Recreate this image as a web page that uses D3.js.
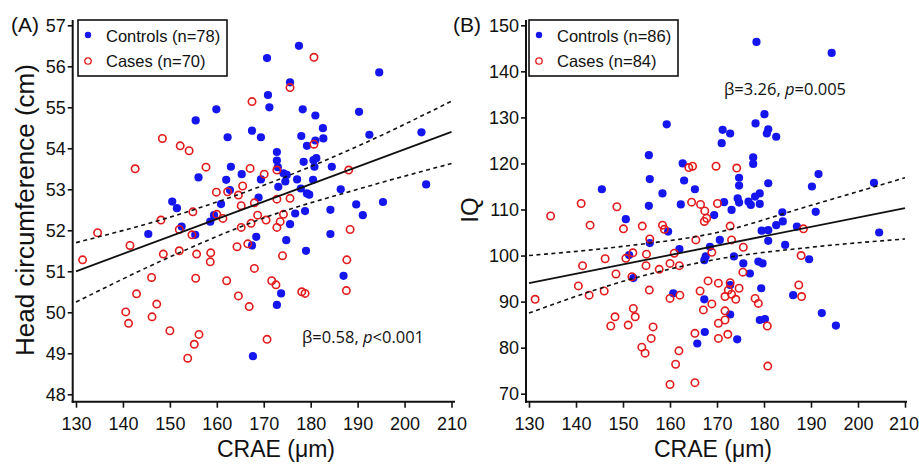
<!DOCTYPE html>
<html>
<head>
<meta charset="utf-8">
<script src="https://cdn.jsdelivr.net/npm/d3@7/dist/d3.min.js"></script>
<style>
  html, body { margin: 0; padding: 0; background: #fff; }
  svg { display: block; }
  text { font-family: "Liberation Sans", Arial, sans-serif; fill: #111; }
</style>
</head>
<body>
<svg id="chart" width="919" height="464"></svg>
<script>
// ---------- DATA ----------
const xTicks = [130, 140, 150, 160, 170, 180, 190, 200, 210];
const yTicksA = [48, 49, 50, 51, 52, 53, 54, 55, 56, 57];
const yTicksB = [70, 80, 90, 100, 110, 120, 130, 140, 150];

const legendA = ["Controls (n=78)", "Cases (n=70)"];
const legendB = ["Controls (n=86)", "Cases (n=84)"];

// fitted regression line (at x = 130 and 210) and 95% CI read at ciX
const fitX = [130, 210];
const fitA = [51.0, 54.4];
const fitB = [94.0, 110.3];
const ciX = [130, 150, 170, 190, 210];
const ciUpperA = [51.70, 52.32, 53.10, 54.05, 55.15];
const ciLowerA = [50.25, 51.35, 52.30, 53.00, 53.63];
const ciUpperB = [100.0, 102.0, 105.0, 110.9, 116.9];
const ciLowerB = [87.5, 94.4, 99.2, 101.8, 103.6];

// Panel A: CRAE vs head circumference
const controlsA = [[177.5,56.50],[170.7,56.20],[175.6,55.61],[170.9,55.30],[171.2,55.00],[159.9,54.95],[178.3,54.95],[181.0,54.80],[155.5,54.68],[182.6,54.49],[167.5,54.43],[162.3,54.27],[169.4,54.27],[178.0,54.30],[182.7,54.24],[181.0,54.19],[179.2,54.06],[172.8,53.91],[172.8,53.70],[178.5,53.67],[180.6,53.71],[181.2,53.76],[163.0,53.55],[173.0,53.54],[184.5,53.55],[180.8,53.55],[174.2,53.39],[174.9,53.35],[165.3,53.37],[156.1,53.29],[162.0,53.23],[169.4,53.24],[174.6,53.19],[177.1,53.24],[180.5,53.23],[173.1,53.06],[177.9,53.02],[162.8,52.98],[179.2,52.90],[179.7,52.87],[186.4,53.00],[168.9,52.80],[150.5,52.70],[151.5,52.54],[160.9,52.64],[184.2,52.50],[178.8,52.47],[176.7,52.41],[159.4,52.37],[158.6,52.21],[175.6,52.15],[152.5,52.09],[184.2,51.91],[168.4,51.84],[155.4,51.89],[174.8,51.76],[167.5,51.63],[179.0,51.50],[145.4,51.91],[187.0,50.89],[173.7,50.46],[172.8,50.18],[190.3,54.89],[194.6,55.85],[192.5,54.33],[203.6,54.39],[189.7,52.63],[195.4,52.69],[204.6,53.12],[191.1,52.37],[167.7,48.93]];
const casesA = [[180.7,56.22],[175.6,55.48],[167.5,55.14],[148.4,54.24],[152.2,54.06],[154.1,53.94],[157.7,53.54],[167.1,53.51],[170.1,53.37],[172.8,53.47],[180.7,54.10],[165.5,53.08],[159.9,52.93],[162.3,52.94],[164.6,52.86],[165.2,52.60],[168.0,52.67],[172.8,52.76],[175.6,52.78],[154.9,52.45],[160.0,52.39],[161.3,52.29],[168.7,52.37],[170.5,52.25],[174.2,52.39],[173.5,52.21],[172.8,52.07],[167.3,52.17],[165.2,52.07],[148.1,52.25],[152.0,52.02],[154.7,51.89],[164.3,51.60],[166.6,51.67],[148.6,51.42],[152.0,51.50],[155.7,51.42],[158.7,51.45],[158.6,51.23],[174.0,51.38],[187.7,51.28],[146.1,50.85],[155.5,50.83],[162.1,50.77],[168.0,51.07],[171.7,50.77],[172.6,50.67],[178.1,50.50],[178.8,50.46],[187.6,50.53],[164.6,50.40],[147.2,50.20],[166.9,50.14],[188.4,52.02],[188.1,53.47],[131.4,51.28],[134.6,51.94],[141.5,51.63],[142.6,53.50],[142.9,50.45],[140.6,50.01],[141.2,49.73],[146.2,49.89],[150.0,49.55],[153.8,48.88],[155.2,49.22],[156.2,49.46],[170.7,49.34]];

// Panel B: CRAE vs IQ
const controlsB = [[178.4,146.4],[194.4,144.0],[159.3,128.5],[180.1,130.7],[178.2,128.7],[180.9,127.4],[180.6,126.5],[182.6,125.8],[171.2,127.3],[172.8,126.5],[171.0,124.4],[155.5,121.8],[177.7,121.3],[177.7,119.9],[162.7,120.0],[174.7,116.9],[174.7,115.2],[155.7,116.6],[163.0,116.3],[165.3,114.4],[158.4,113.5],[180.9,115.7],[191.6,117.7],[190.2,115.0],[179.1,113.5],[178.1,112.8],[174.4,112.4],[174.7,111.5],[176.7,111.7],[177.2,111.0],[179.1,111.2],[171.5,111.6],[173.1,109.9],[155.5,110.8],[162.3,111.1],[169.4,108.8],[150.6,107.9],[159.6,105.2],[179.5,105.4],[180.9,105.5],[182.6,106.6],[184.0,107.4],[183.9,109.4],[187.0,106.3],[180.9,103.2],[184.5,102.3],[170.6,103.4],[162.0,101.4],[168.5,101.9],[167.6,99.8],[167.3,99.0],[173.6,99.8],[175.6,98.3],[178.8,98.7],[179.7,98.3],[189.6,99.2],[177.0,96.1],[152.2,95.1],[151.3,100.1],[155.7,102.7],[172.8,93.6],[179.4,92.9],[186.2,91.4],[160.7,91.8],[167.3,90.5],[172.8,87.2],[179.1,86.0],[180.2,86.2],[192.3,87.5],[195.3,84.8],[145.5,114.4],[203.4,115.8],[191.0,109.5],[204.5,105.0],[167.4,83.4],[165.8,80.9],[174.3,81.8]];
const casesB = [[164.0,119.1],[164.8,119.4],[169.8,119.4],[174.2,119.0],[148.7,110.6],[164.6,111.6],[166.5,111.1],[167.4,109.7],[170.1,111.3],[167.8,108.1],[167.3,107.4],[150.1,105.8],[154.1,106.4],[158.4,106.6],[158.8,105.7],[155.7,103.6],[165.5,103.4],[172.8,106.4],[173.1,103.4],[188.4,105.8],[175.6,101.8],[168.9,100.7],[160.9,100.5],[152.1,100.6],[150.6,99.4],[155.0,100.3],[154.9,97.8],[160.0,98.3],[162.0,97.8],[157.7,97.0],[148.5,96.0],[151.9,95.4],[175.5,96.4],[187.9,100.0],[168.1,94.5],[170.3,94.0],[172.8,94.1],[172.4,92.5],[174.7,92.9],[166.4,92.3],[155.6,92.5],[160.0,90.7],[162.1,91.4],[171.7,91.1],[173.1,91.6],[174.0,90.5],[168.9,89.5],[171.7,88.0],[167.1,88.2],[178.1,90.7],[178.8,89.6],[187.4,93.6],[188.0,91.1],[152.2,88.5],[152.6,86.7],[148.3,86.7],[151.1,84.9],[156.4,84.5],[170.3,85.3],[171.7,86.0],[180.7,84.7],[134.6,108.6],[141.1,111.3],[143.0,106.6],[146.2,99.3],[140.5,93.4],[141.4,97.8],[142.8,91.4],[146.0,92.3],[131.3,90.5],[147.4,84.7],[154.0,80.1],[154.7,78.8],[156.0,82.0],[160.0,72.0],[161.2,76.4],[161.9,79.3],[165.3,72.4],[165.3,83.1],[170.3,82.0],[172.3,82.9],[180.8,76.0]];

// ---------- DRAW ----------
const BLUE = "#1515ee";
const RED = "#e31a1c";
const svg = d3.select("#chart");
svg.append("rect").attr("width", 919).attr("height", 464).attr("fill", "#fff");

function panel(cfg) {
  const g = svg.append("g");
  const x = d3.scaleLinear().domain([130, 210]).range(cfg.xRange);
  const y = d3.scaleLinear().domain(cfg.yDomain).range(cfg.yRange);
  const axisY = 401.7;

  // axes
  const gx = g.append("g").attr("transform", `translate(0,${axisY})`)
    .call(d3.axisBottom(x).tickValues(xTicks).tickSize(6).tickPadding(10).tickFormat(d3.format("d")));
  gx.select(".domain").remove();
  gx.selectAll("line").attr("stroke", "#111").attr("stroke-width", 1.6);
  gx.selectAll("text").style("font-size", "18px").style("font-family", "'Liberation Sans', Arial, sans-serif").attr("fill", "#111");
  if (cfg.lastTickShift) {
    gx.selectAll("text").filter(d => d === 210).attr("dx", cfg.lastTickShift);
  }

  const gy = g.append("g").attr("transform", `translate(${cfg.yAxisX},0)`)
    .call(d3.axisLeft(y).tickValues(cfg.yTicks).tickSize(5).tickPadding(2).tickFormat(d3.format("d")));
  gy.select(".domain").remove();
  gy.selectAll("line").attr("stroke", "#111").attr("stroke-width", 1.6);
  gy.selectAll("text").style("font-size", "18px").style("font-family", "'Liberation Sans', Arial, sans-serif").attr("fill", "#111");

  g.append("line").attr("x1", cfg.yAxisX).attr("x2", cfg.yAxisX).attr("y1", 20).attr("y2", axisY + 1)
    .attr("stroke", "#111").attr("stroke-width", 2);
  g.append("line").attr("x1", cfg.yAxisX - 1).attr("x2", cfg.xAxisEnd).attr("y1", axisY).attr("y2", axisY)
    .attr("stroke", "#111").attr("stroke-width", 2);

  // points
  g.append("g").selectAll("circle").data(cfg.controls).join("circle")
    .attr("cx", d => x(d[0])).attr("cy", d => y(d[1])).attr("r", 4.1).attr("fill", BLUE);
  g.append("g").selectAll("circle").data(cfg.cases).join("circle")
    .attr("cx", d => x(d[0])).attr("cy", d => y(d[1])).attr("r", 3.7)
    .attr("fill", "none").attr("stroke", RED).attr("stroke-width", 1.6);

  // regression + CI
  const line = d3.line().x(d => x(d[0])).y(d => y(d[1]));
  const curve = d3.line().x(d => x(d[0])).y(d => y(d[1])).curve(d3.curveMonotoneX);
  g.append("path").attr("d", line(fitX.map((v, i) => [v, cfg.fit[i]])))
    .attr("fill", "none").attr("stroke", "#111").attr("stroke-width", 1.8);
  [cfg.ciU, cfg.ciL].forEach(arr => {
    g.append("path").attr("d", curve(ciX.map((v, i) => [v, arr[i]])))
      .attr("fill", "none").attr("stroke", "#111").attr("stroke-width", 1.6)
      .attr("stroke-dasharray", "4,3.5");
  });

  // legend
  const lg = g.append("g");
  lg.append("rect").attr("x", cfg.legX).attr("y", 20).attr("width", 149).attr("height", 56)
    .attr("fill", "#fff").attr("stroke", "#111").attr("stroke-width", 1.6);
  lg.append("circle").attr("cx", cfg.legX + 10).attr("cy", 35).attr("r", 3.2).attr("fill", BLUE);
  lg.append("circle").attr("cx", cfg.legX + 10).attr("cy", 61).attr("r", 3.2)
    .attr("fill", "none").attr("stroke", RED).attr("stroke-width", 1.3);
  lg.append("text").attr("x", cfg.legX + 28).attr("y", 42).style("font-size", "16.5px").text(cfg.legend[0]);
  lg.append("text").attr("x", cfg.legX + 28).attr("y", 67).style("font-size", "16.5px").text(cfg.legend[1]);

  // panel label
  g.append("text").attr("x", cfg.labelX).attr("y", 32).style("font-size", "21px").text(cfg.label);

  // titles
  g.append("text").attr("x", cfg.xTitleX).attr("y", 457).attr("text-anchor", "middle")
    .style("font-size", "23px").text("CRAE (μm)");
  g.append("text").attr("transform", `translate(${cfg.yTitleX},${cfg.yTitleY}) rotate(-90)`)
    .attr("text-anchor", "middle").style("font-size", cfg.yTitleSize).text(cfg.yTitle);

  // annotation
  const t = g.append("text").attr("x", cfg.annX).attr("y", cfg.annY)
    .style("font-size", "16.5px").style("font-family", "'Open Sans', 'Liberation Sans', sans-serif");
  t.append("tspan").text(cfg.ann[0]);
  t.append("tspan").style("font-style", "italic").text("p");
  t.append("tspan").text(cfg.ann[1]);
}

panel({
  xRange: [76, 451.5], yDomain: [48, 57], yRange: [394.3, 25.3], yTicks: yTicksA,
  yAxisX: 72.7, xAxisEnd: 455, controls: controlsA, cases: casesA,
  fit: fitA, ciU: ciUpperA, ciL: ciLowerA, legX: 78, legend: legendA,
  label: "(A)", labelX: 11, xTitleX: 276, yTitleX: 34, yTitleY: 210, yTitleSize: "26px",
  yTitle: "Head circumference (cm)", annX: 302, annY: 343, ann: ["β=0.58, ", "<0.001"]
});
panel({
  xRange: [529, 905], yDomain: [70, 150], yRange: [393.7, 25.3], yTicks: yTicksB,
  yAxisX: 526, xAxisEnd: 907, controls: controlsB, cases: casesB,
  fit: fitB, ciU: ciUpperB, ciL: ciLowerB, legX: 529, legend: legendB,
  label: "(B)", labelX: 453, xTitleX: 713, yTitleX: 478, yTitleY: 210, yTitleSize: "24px",
  yTitle: "IQ", annX: 724, annY: 95, ann: ["β=3.26, ", "=0.005"], lastTickShift: -1.5
});
</script>
</body>
</html>
